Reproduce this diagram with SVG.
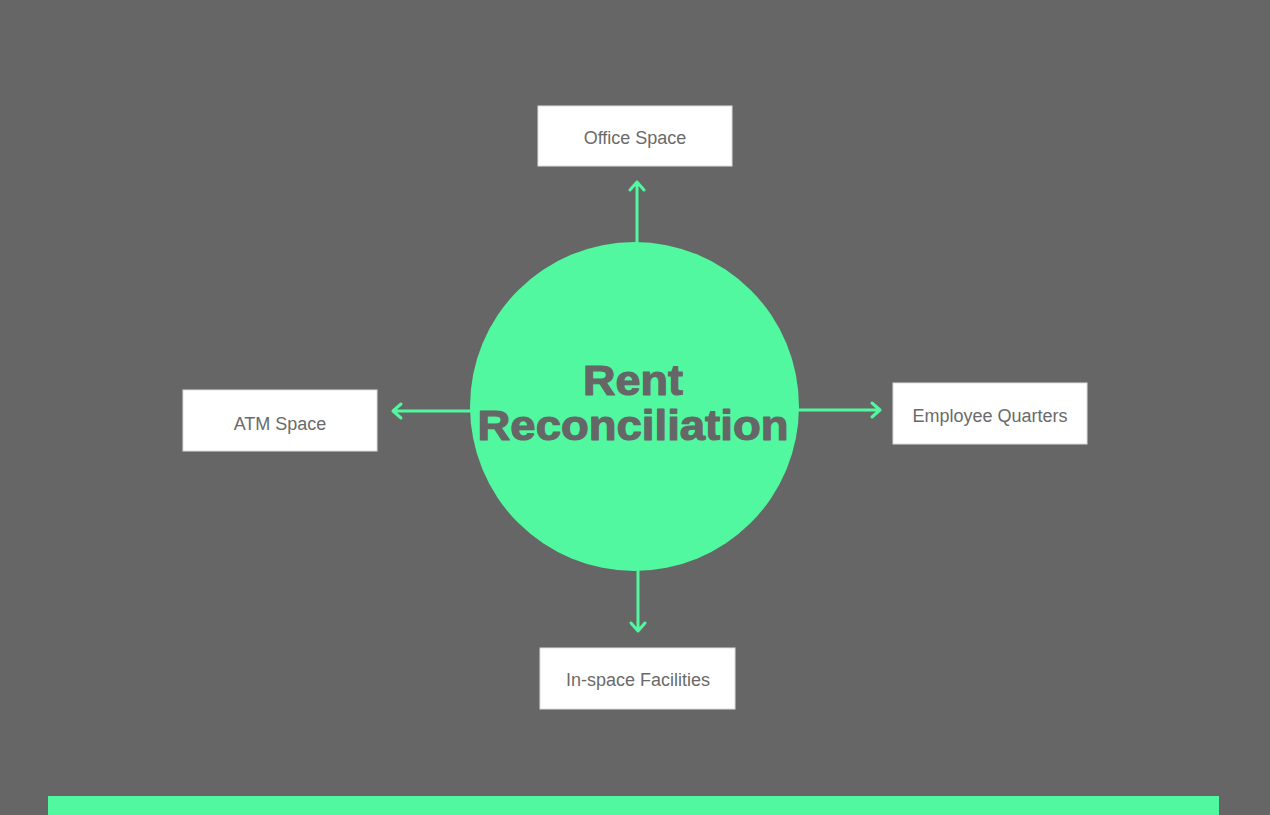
<svg xmlns="http://www.w3.org/2000/svg" width="1270" height="815" viewBox="0 0 1270 815">
<defs>
<style>
.box{fill:#ffffff;stroke:#dddddd;stroke-width:1}
.lbl{font-family:"Liberation Sans",Arial,sans-serif;font-size:18px;fill:#6a6a6a;text-anchor:middle}
.title{font-family:"Liberation Sans",Arial,sans-serif;font-weight:bold;font-size:43px;fill:#666666;stroke:#666666;stroke-width:1.2;stroke-linejoin:round;text-anchor:middle}
.conn{stroke:#52f8a0;stroke-width:3;fill:none;stroke-linecap:round;stroke-linejoin:round}
</style>
</defs>
<rect x="0" y="0" width="1270" height="815" fill="#666666"/>
<rect x="48" y="796" width="1171" height="19" fill="#52f8a0"/>
<g id="connectors">
<path class="conn" d="M637 242 V182 M630 190 L637 182 L644 190"/>
<path class="conn" d="M470 411 H393 M401 404 L393 411 L401 418"/>
<path class="conn" d="M799 410 H880 M872 403 L880 410 L872 417"/>
<path class="conn" d="M638 571 V631 M631 623 L638 631 L645 623"/>
</g>
<g id="center">
<circle cx="634.5" cy="406.5" r="164.5" fill="#52f8a0"/>
<text class="title" x="633" y="395" textLength="100" lengthAdjust="spacingAndGlyphs">Rent</text>
<text class="title" x="633" y="440" textLength="311" lengthAdjust="spacingAndGlyphs">Reconciliation</text>
</g>
<g id="office">
<rect class="box" x="538" y="106" width="194" height="60"/>
<text class="lbl" x="635" y="144">Office Space</text>
</g>
<g id="atm">
<rect class="box" x="183" y="390" width="194" height="61"/>
<text class="lbl" x="280" y="430">ATM Space</text>
</g>
<g id="employee">
<rect class="box" x="893" y="383" width="194" height="61"/>
<text class="lbl" x="990" y="422">Employee Quarters</text>
</g>
<g id="inspace">
<rect class="box" x="540" y="648" width="195" height="61"/>
<text class="lbl" x="638" y="686">In-space Facilities</text>
</g>
</svg>
